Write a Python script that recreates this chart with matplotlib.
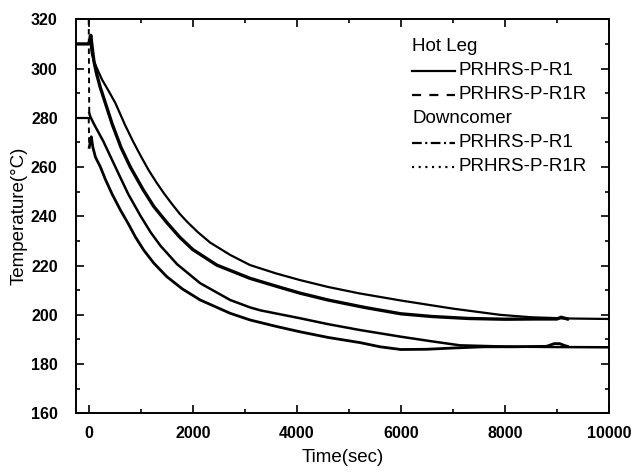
import matplotlib.pyplot as plt
from matplotlib.ticker import MultipleLocator

plt.rcParams['font.family'] = ['Liberation Sans', 'DejaVu Sans']
plt.rcParams['lines.scale_dashes'] = False

# Hot leg, PRHRS-P-R1 (thick curve, ends ~9200 s)
hot_r1_t = [-250, -100, 0, 15, 40, 70, 100, 150, 220, 320, 450, 620, 800, 1040, 1250,
            1500, 1750, 2000, 2460, 3100, 3700, 4060, 4600, 5300, 6000, 6600, 7300,
            8000, 8600, 9000, 9080, 9150, 9200]
hot_r1_T = [310, 310, 310, 311, 313.5, 308, 303, 298, 292.5, 286, 277.5, 268, 260, 251, 244,
            237.5, 231.5, 226.5, 220.2, 214.8, 211, 208.8, 206, 203, 200.4, 199.3, 198.5,
            198.2, 198.3, 198.3, 199, 198.6, 198.3]

# Hot leg, PRHRS-P-R1R (upper thin curve)
hot_r1r_t = [20, 60, 100, 160, 256, 380, 512, 700, 850, 1000, 1150, 1300, 1450, 1600, 1750,
             1890, 2100, 2336, 2720, 3100, 3600, 4060, 4600, 5200, 6000, 7000, 7900, 8500,
             9200, 10000]
hot_r1r_T = [313, 306, 303, 300, 295.5, 291, 286, 277, 270.5, 264.5, 258.8, 253.8, 249.2,
             245, 241, 237.8, 233.5, 229.3, 224.3, 220.2, 216.8, 214.1, 211.3, 208.7, 205.8,
             202.5, 200, 199, 198.5, 198.3]

# Downcomer, PRHRS-P-R1 (lowest curve, ends ~9200 s)
dc_r1_t = [-250, -100, 0, 10, 30, 50, 80, 130, 225, 320, 450, 610, 760, 900, 1056, 1250,
           1500, 1800, 2144, 2720, 3100, 3600, 4060, 4600, 5215, 5600, 6000, 6500, 7000,
           7600, 8200, 8800, 8950, 9050, 9150, 9200]
dc_r1_T = [280, 280, 280, 268, 270, 272.3, 268, 264, 260, 255, 249, 242.5, 237, 231.5, 226.3,
           221, 215.5, 210.5, 206, 200.6, 197.9, 195.3, 193.1, 190.8, 188.7, 187, 185.9, 186,
           186.5, 187, 187, 187.2, 188.3, 188.3, 187.5, 187.2]

# Downcomer, PRHRS-P-R1R (second lowest curve)
dc_r1r_t = [0, 10, 30, 100, 190, 280, 380, 480, 580, 760, 1000, 1190, 1380, 1700, 2144,
            2720, 3100, 3300, 4060, 4600, 5215, 6000, 6600, 7135, 8000, 9000, 10000]
dc_r1r_T = [320, 282, 280.5, 277.5, 274, 270.5, 266, 261.5, 257, 249, 240, 233.5, 228, 220.5,
            212.8, 206, 203, 201.8, 198.6, 196.2, 193.8, 191.1, 189.2, 187.6, 187.1, 186.9, 186.8]

legend_rows = [('Hot Leg', None), ('PRHRS-P-R1', '-'), ('PRHRS-P-R1R', (0, (6.5, 6))),
               ('Downcomer', None), ('PRHRS-P-R1', (0, (7, 2.5, 1.5, 2.5))),
               ('PRHRS-P-R1R', (0, (1.5, 3.3)))]

fig = plt.figure(figsize=(6.33, 4.72), dpi=100)
ax = fig.add_axes([0.1196, 0.1244, 0.8425, 0.8347])

ax.plot(hot_r1_t, hot_r1_T, color='black', lw=2.4)
ax.plot(hot_r1r_t, hot_r1r_T, color='black', lw=1.6)
ax.plot(dc_r1_t[:3], dc_r1_T[:3], color='black', lw=1.6)
ax.plot(dc_r1_t[2:4], dc_r1_T[2:4], color='black', lw=1.4, ls=(0, (4, 3)))
ax.plot(dc_r1_t[3:], dc_r1_T[3:], color='black', lw=2.0)
ax.plot(dc_r1r_t[:2], dc_r1r_T[:2], color='black', lw=1.4, ls=(0, (4, 3)))
ax.plot(dc_r1r_t[1:], dc_r1r_T[1:], color='black', lw=1.8)

ax.set_xlim(-250, 10000)
ax.set_ylim(160, 320)
ax.xaxis.set_major_locator(MultipleLocator(2000))
ax.xaxis.set_minor_locator(MultipleLocator(1000))
ax.yaxis.set_major_locator(MultipleLocator(20))
ax.yaxis.set_minor_locator(MultipleLocator(10))
ax.tick_params(which='both', direction='in', top=True, right=True, width=1.2)
ax.tick_params(which='major', length=6, labelsize=11.5)
ax.tick_params(which='minor', length=3)
ax.tick_params(axis='x', pad=9)
ax.tick_params(axis='y', pad=13)
plt.setp(ax.get_xticklabels() + ax.get_yticklabels(), fontweight='bold')
for s in ax.spines.values():
    s.set_linewidth(1.4)

ax.set_xlabel('Time(sec)', fontsize=13.5, labelpad=6)
ax.set_ylabel('Temperature(\u00b0C)', fontsize=13.5, labelpad=2)

# legend drawn by hand so the headers start where the line samples start
y = 0.930
for label, style in legend_rows:
    if style is None:
        ax.text(0.631, y, label, transform=ax.transAxes, fontsize=13.5, va='center')
    else:
        ax.plot([0.631, 0.712], [y, y], transform=ax.transAxes, color='black', lw=1.6, ls=style)
        ax.text(0.717, y, label, transform=ax.transAxes, fontsize=13.5, va='center')
    y -= 0.0608

fig.savefig('out.png', dpi=100)
